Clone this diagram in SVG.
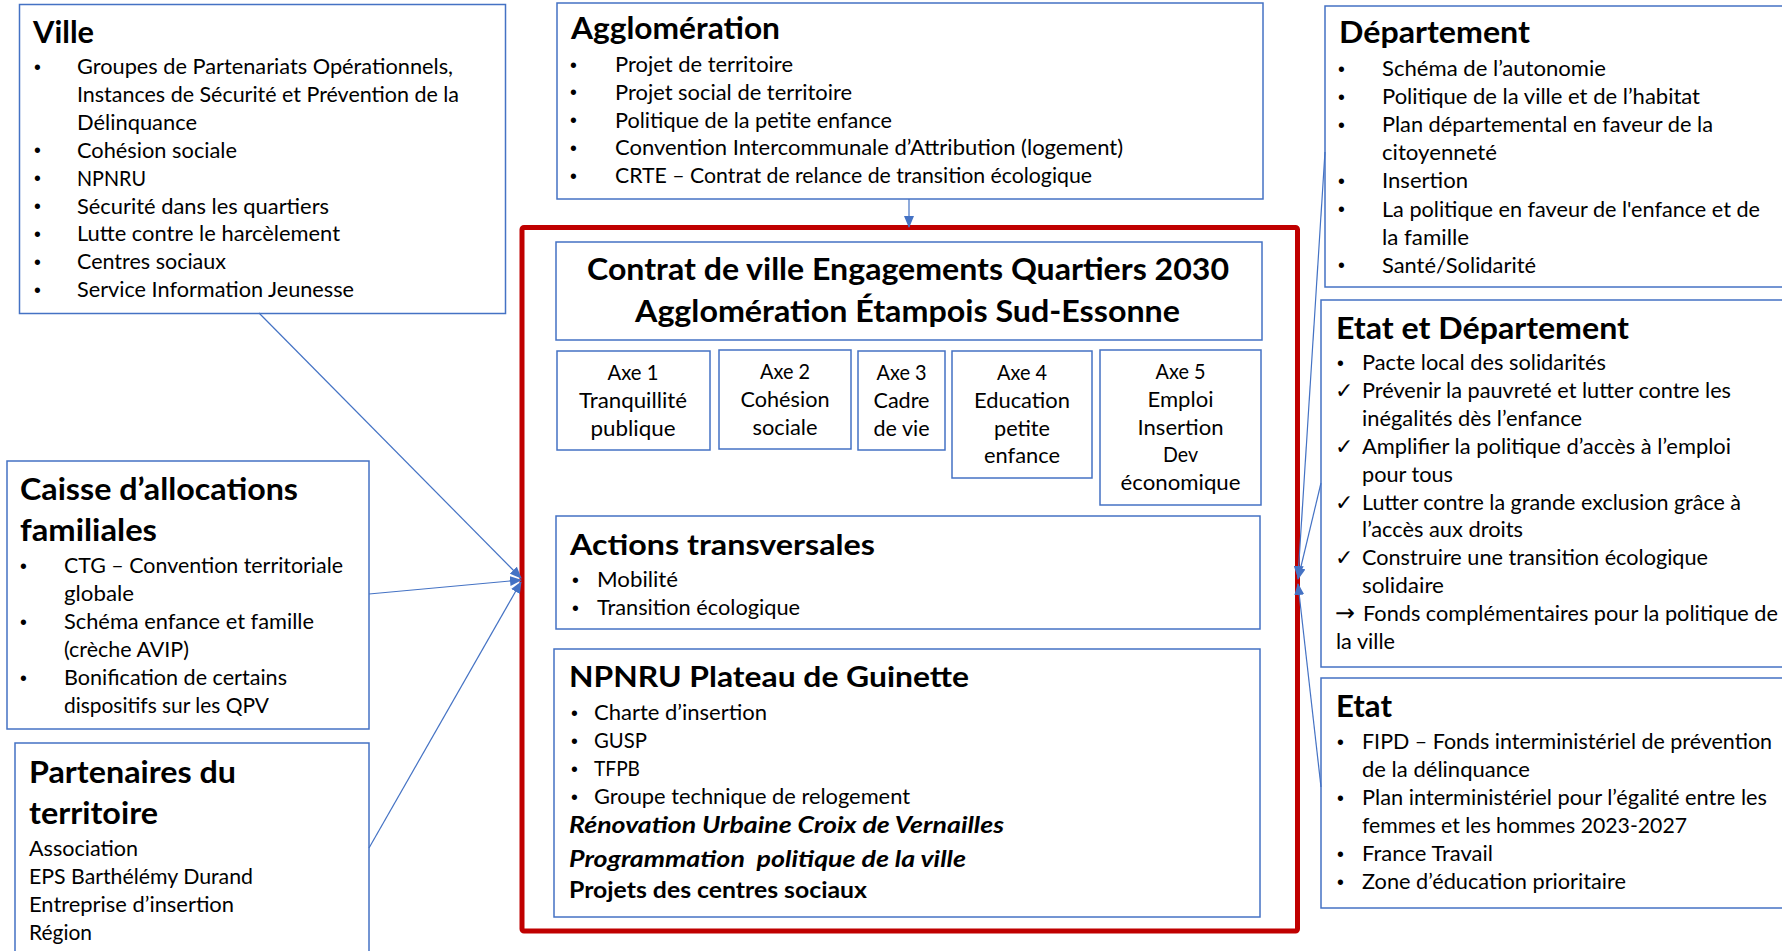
<svg xmlns="http://www.w3.org/2000/svg" width="1782" height="951" viewBox="0 0 1782 951">
<defs>
<style>
.box{fill:#fff;stroke:#4472C4;stroke-width:1.5}
.in{fill:#fff;stroke:#4472C4;stroke-width:1.5}
.red{fill:none;stroke:#C00000;stroke-width:5}
text{font-family:Lato,"Liberation Sans",sans-serif;fill:#000;font-size:21px}
.h{font-weight:700;font-size:31px}
.hc{font-weight:700;font-size:30px}
.hs{font-weight:700;font-size:28px}
.bi{font-weight:700;font-style:italic;font-size:22px}
.b{font-weight:700;font-size:22px}
.bu{font-family:"Liberation Sans",sans-serif;font-size:19.5px}
.sym{font-family:"DejaVu Sans",sans-serif;font-size:22px}
.ar{font-family:"DejaVu Sans",sans-serif;font-size:24px}
.mid{text-anchor:middle}
.conn line{stroke:#4472C4;stroke-width:1.2;marker-end:url(#arr)}
</style>
<marker id="arr" markerUnits="userSpaceOnUse" markerWidth="12" markerHeight="10" refX="11" refY="5" orient="auto">
<path d="M0,0 L12,5 L0,10 z" fill="#4472C4"/>
</marker>
</defs>
<rect width="1782" height="951" fill="#fff"/>

<g id="ville">
<rect class="box" x="19.5" y="4.5" width="486" height="309"/>
<text class="h" x="33" y="43" textLength="61" lengthAdjust="spacingAndGlyphs">Ville</text>
<text class="bu" x="34" y="73.5">•</text><text class="bu" x="34" y="157.2">•</text><text class="bu" x="34" y="185.1">•</text><text class="bu" x="34" y="213">•</text><text class="bu" x="34" y="240.9">•</text><text class="bu" x="34" y="268.8">•</text><text class="bu" x="34" y="296.7">•</text>
<text x="77" y="74" textLength="376" lengthAdjust="spacingAndGlyphs">Groupes de Partenariats Opérationnels,</text>
<text x="77" y="101.9" textLength="382" lengthAdjust="spacingAndGlyphs">Instances de Sécurité et Prévention de la</text>
<text x="77" y="129.8" textLength="120" lengthAdjust="spacingAndGlyphs">Délinquance</text>
<text x="77" y="157.7" textLength="160" lengthAdjust="spacingAndGlyphs">Cohésion sociale</text>
<text x="77" y="185.6" textLength="69" lengthAdjust="spacingAndGlyphs">NPNRU</text>
<text x="77" y="213.5" textLength="252" lengthAdjust="spacingAndGlyphs">Sécurité dans les quartiers</text>
<text x="77" y="241.4" textLength="263" lengthAdjust="spacingAndGlyphs">Lutte contre le harcèlement</text>
<text x="77" y="269.3" textLength="149" lengthAdjust="spacingAndGlyphs">Centres sociaux</text>
<text x="77" y="297.2" textLength="277" lengthAdjust="spacingAndGlyphs">Service Information Jeunesse</text>
</g>

<g id="agglomeration">
<rect class="box" x="557" y="3" width="706" height="196"/>
<text class="h" x="571" y="39" textLength="209" lengthAdjust="spacingAndGlyphs">Agglomération</text>
<text class="bu" x="570" y="71.5">•</text><text class="bu" x="570" y="99.3">•</text><text class="bu" x="570" y="127.1">•</text><text class="bu" x="570" y="154.9">•</text><text class="bu" x="570" y="182.7">•</text>
<text x="615" y="72" textLength="178" lengthAdjust="spacingAndGlyphs">Projet de territoire</text>
<text x="615" y="99.8" textLength="237" lengthAdjust="spacingAndGlyphs">Projet social de territoire</text>
<text x="615" y="127.6" textLength="277" lengthAdjust="spacingAndGlyphs">Politique de la petite enfance</text>
<text x="615" y="155.4" textLength="508" lengthAdjust="spacingAndGlyphs">Convention Intercommunale d’Attribution (logement)</text>
<text x="615" y="183.2" textLength="477" lengthAdjust="spacingAndGlyphs">CRTE – Contrat de relance de transition écologique</text>
</g>

<g id="departement">
<rect class="box" x="1325" y="6" width="470" height="281"/>
<text class="h" x="1339" y="43" textLength="191" lengthAdjust="spacingAndGlyphs">Département</text>
<text class="bu" x="1338" y="75.5">•</text><text class="bu" x="1338" y="103.6">•</text><text class="bu" x="1338" y="131.7">•</text><text class="bu" x="1338" y="187.9">•</text><text class="bu" x="1338" y="216">•</text><text class="bu" x="1338" y="272.2">•</text>
<text x="1382" y="76" textLength="224" lengthAdjust="spacingAndGlyphs">Schéma de l’autonomie</text>
<text x="1382" y="104.1" textLength="318" lengthAdjust="spacingAndGlyphs">Politique de la ville et de l’habitat</text>
<text x="1382" y="132.2" textLength="331" lengthAdjust="spacingAndGlyphs">Plan départemental en faveur de la</text>
<text x="1382" y="160.3" textLength="115" lengthAdjust="spacingAndGlyphs">citoyenneté</text>
<text x="1382" y="188.4" textLength="86" lengthAdjust="spacingAndGlyphs">Insertion</text>
<text x="1382" y="216.5" textLength="378" lengthAdjust="spacingAndGlyphs">La politique en faveur de l'enfance et de</text>
<text x="1382" y="244.6" textLength="87" lengthAdjust="spacingAndGlyphs">la famille</text>
<text x="1382" y="272.7" textLength="154" lengthAdjust="spacingAndGlyphs">Santé/Solidarité</text>
</g>

<g id="etat-departement">
<rect class="box" x="1321" y="300" width="475" height="367"/>
<text class="h" x="1336" y="339" textLength="293" lengthAdjust="spacingAndGlyphs">Etat et Département</text>
<text class="bu" x="1337" y="369.5">•</text>
<text class="sym" x="1335" y="398">✓</text><text class="sym" x="1335" y="453.8">✓</text><text class="sym" x="1335" y="509.6">✓</text><text class="sym" x="1335" y="565.4">✓</text>
<text x="1362" y="370" textLength="244" lengthAdjust="spacingAndGlyphs">Pacte local des solidarités</text>
<text x="1362" y="397.9" textLength="369" lengthAdjust="spacingAndGlyphs">Prévenir la pauvreté et lutter contre les</text>
<text x="1362" y="425.8" textLength="220" lengthAdjust="spacingAndGlyphs">inégalités dès l’enfance</text>
<text x="1362" y="453.7" textLength="369" lengthAdjust="spacingAndGlyphs">Amplifier la politique d’accès à l’emploi</text>
<text x="1362" y="481.6" textLength="91" lengthAdjust="spacingAndGlyphs">pour tous</text>
<text x="1362" y="509.5" textLength="379" lengthAdjust="spacingAndGlyphs">Lutter contre la grande exclusion grâce à</text>
<text x="1362" y="537.4" textLength="161" lengthAdjust="spacingAndGlyphs">l’accès aux droits</text>
<text x="1362" y="565.3" textLength="346" lengthAdjust="spacingAndGlyphs">Construire une transition écologique</text>
<text x="1362" y="593.2" textLength="82" lengthAdjust="spacingAndGlyphs">solidaire</text>
<text class="ar" x="1335" y="621.1" textLength="20" lengthAdjust="spacingAndGlyphs">→</text>
<text x="1363" y="621.1" textLength="415" lengthAdjust="spacingAndGlyphs">Fonds complémentaires pour la politique de</text>
<text x="1336" y="649" textLength="59" lengthAdjust="spacingAndGlyphs">la ville</text>
</g>

<g id="etat">
<rect class="box" x="1321" y="678" width="475" height="230"/>
<text class="h" x="1336" y="717" textLength="56" lengthAdjust="spacingAndGlyphs">Etat</text>
<text class="bu" x="1337" y="748.5">•</text><text class="bu" x="1337" y="804.5">•</text><text class="bu" x="1337" y="860.5">•</text><text class="bu" x="1337" y="888.5">•</text>
<text x="1362" y="749" textLength="410" lengthAdjust="spacingAndGlyphs">FIPD – Fonds interministériel de prévention</text>
<text x="1362" y="777" textLength="168" lengthAdjust="spacingAndGlyphs">de la délinquance</text>
<text x="1362" y="805" textLength="405" lengthAdjust="spacingAndGlyphs">Plan interministériel pour l’égalité entre les</text>
<text x="1362" y="833" textLength="325" lengthAdjust="spacingAndGlyphs">femmes et les hommes 2023-2027</text>
<text x="1362" y="861" textLength="131" lengthAdjust="spacingAndGlyphs">France Travail</text>
<text x="1362" y="889" textLength="264" lengthAdjust="spacingAndGlyphs">Zone d’éducation prioritaire</text>
</g>

<g id="caf">
<rect class="box" x="7" y="461" width="362" height="268"/>
<text class="h" x="20" y="500" textLength="278" lengthAdjust="spacingAndGlyphs">Caisse d’allocations</text>
<text class="h" x="20" y="541" textLength="137" lengthAdjust="spacingAndGlyphs">familiales</text>
<text class="bu" x="20" y="572.5">•</text><text class="bu" x="20" y="628.5">•</text><text class="bu" x="20" y="684.5">•</text>
<text x="64" y="573" textLength="279" lengthAdjust="spacingAndGlyphs">CTG – Convention territoriale</text>
<text x="64" y="601" textLength="70" lengthAdjust="spacingAndGlyphs">globale</text>
<text x="64" y="629" textLength="250" lengthAdjust="spacingAndGlyphs">Schéma enfance et famille</text>
<text x="64" y="657" textLength="125" lengthAdjust="spacingAndGlyphs">(crèche AVIP)</text>
<text x="64" y="685" textLength="223" lengthAdjust="spacingAndGlyphs">Bonification de certains</text>
<text x="64" y="713" textLength="205" lengthAdjust="spacingAndGlyphs">dispositifs sur les QPV</text>
</g>

<g id="partenaires">
<rect class="box" x="15" y="743" width="354" height="220"/>
<text class="h" x="29" y="783" textLength="207" lengthAdjust="spacingAndGlyphs">Partenaires du</text>
<text class="h" x="29" y="824" textLength="129" lengthAdjust="spacingAndGlyphs">territoire</text>
<text x="29" y="856" textLength="109" lengthAdjust="spacingAndGlyphs">Association</text>
<text x="29" y="884" textLength="224" lengthAdjust="spacingAndGlyphs">EPS Barthélémy Durand</text>
<text x="29" y="912" textLength="205" lengthAdjust="spacingAndGlyphs">Entreprise d’insertion</text>
<text x="29" y="940" textLength="63" lengthAdjust="spacingAndGlyphs">Région</text>
</g>

<g id="contrat">
<rect class="red" x="522" y="227.5" width="775.5" height="703.5" rx="2"/>
<g id="titre">
<rect class="in" x="556" y="242" width="706" height="98"/>
<text class="hc mid" x="908" y="280" textLength="642" lengthAdjust="spacingAndGlyphs">Contrat de ville Engagements Quartiers 2030</text>
<text class="hc mid" x="907.5" y="322" textLength="545" lengthAdjust="spacingAndGlyphs">Agglomération Étampois Sud-Essonne</text>
</g>
<g id="axe1">
<rect class="in" x="557" y="351" width="153" height="99"/>
<text class="mid" x="633" y="380" textLength="51" lengthAdjust="spacingAndGlyphs">Axe 1</text>
<text class="mid" x="633" y="408" textLength="108" lengthAdjust="spacingAndGlyphs">Tranquillité</text>
<text class="mid" x="633" y="436" textLength="85" lengthAdjust="spacingAndGlyphs">publique</text>
</g>
<g id="axe2">
<rect class="in" x="719" y="350" width="132" height="99"/>
<text class="mid" x="785" y="379" textLength="50" lengthAdjust="spacingAndGlyphs">Axe 2</text>
<text class="mid" x="785" y="407" textLength="89" lengthAdjust="spacingAndGlyphs">Cohésion</text>
<text class="mid" x="785" y="435" textLength="65" lengthAdjust="spacingAndGlyphs">sociale</text>
</g>
<g id="axe3">
<rect class="in" x="858" y="351" width="87" height="99"/>
<text class="mid" x="901.5" y="380" textLength="50" lengthAdjust="spacingAndGlyphs">Axe 3</text>
<text class="mid" x="901.5" y="408" textLength="56" lengthAdjust="spacingAndGlyphs">Cadre</text>
<text class="mid" x="901.5" y="436" textLength="56" lengthAdjust="spacingAndGlyphs">de vie</text>
</g>
<g id="axe4">
<rect class="in" x="952" y="351" width="140" height="127"/>
<text class="mid" x="1022" y="380" textLength="50" lengthAdjust="spacingAndGlyphs">Axe 4</text>
<text class="mid" x="1022" y="408" textLength="96" lengthAdjust="spacingAndGlyphs">Education</text>
<text class="mid" x="1022" y="436" textLength="56" lengthAdjust="spacingAndGlyphs">petite</text>
<text class="mid" x="1022" y="463" textLength="76" lengthAdjust="spacingAndGlyphs">enfance</text>
</g>
<g id="axe5">
<rect class="in" x="1100" y="350" width="161" height="155"/>
<text class="mid" x="1180.5" y="379" textLength="50" lengthAdjust="spacingAndGlyphs">Axe 5</text>
<text class="mid" x="1180.5" y="407" textLength="66" lengthAdjust="spacingAndGlyphs">Emploi</text>
<text class="mid" x="1180.5" y="435" textLength="86" lengthAdjust="spacingAndGlyphs">Insertion</text>
<text class="mid" x="1180.5" y="462" textLength="35" lengthAdjust="spacingAndGlyphs">Dev</text>
<text class="mid" x="1180.5" y="490" textLength="120" lengthAdjust="spacingAndGlyphs">économique</text>
</g>
<g id="actions">
<rect class="in" x="556" y="516" width="704" height="113"/>
<text class="hs" x="570" y="555" textLength="305" lengthAdjust="spacingAndGlyphs">Actions transversales</text>
<text class="bu" x="572" y="586.5">•</text><text class="bu" x="572" y="614.5">•</text>
<text x="597" y="587" textLength="81" lengthAdjust="spacingAndGlyphs">Mobilité</text>
<text x="597" y="615" textLength="203" lengthAdjust="spacingAndGlyphs">Transition écologique</text>
</g>
<g id="npnru">
<rect class="in" x="554" y="649" width="706" height="268"/>
<text class="hs" x="569" y="687" textLength="400" lengthAdjust="spacingAndGlyphs">NPNRU Plateau de Guinette</text>
<text class="bu" x="571" y="719.5">•</text><text class="bu" x="571" y="747.5">•</text><text class="bu" x="571" y="775.5">•</text><text class="bu" x="571" y="803.5">•</text>
<text x="594" y="720" textLength="173" lengthAdjust="spacingAndGlyphs">Charte d’insertion</text>
<text x="594" y="748" textLength="53" lengthAdjust="spacingAndGlyphs">GUSP</text>
<text x="594" y="776" textLength="46" lengthAdjust="spacingAndGlyphs">TFPB</text>
<text x="594" y="804" textLength="316" lengthAdjust="spacingAndGlyphs">Groupe technique de relogement</text>
<text class="bi" x="569" y="833" textLength="435" lengthAdjust="spacingAndGlyphs">Rénovation Urbaine Croix de Vernailles</text>
<text class="bi" x="569" y="867" textLength="397" lengthAdjust="spacingAndGlyphs" xml:space="preserve">Programmation  politique de la ville</text>
<text class="b" x="569" y="898" textLength="298" lengthAdjust="spacingAndGlyphs">Projets des centres sociaux</text>
</g>
</g>

<g id="connecteurs" class="conn">
<line x1="259" y1="313" x2="521" y2="578"/>
<line x1="369" y1="594" x2="521" y2="580"/>
<line x1="369" y1="848" x2="521" y2="582"/>
<line x1="909" y1="199" x2="909" y2="227"/>
<line x1="1325" y1="152" x2="1298" y2="577"/>
<line x1="1321" y1="483" x2="1298" y2="579"/>
<line x1="1321" y1="787" x2="1298" y2="584"/>
</g>
</svg>
